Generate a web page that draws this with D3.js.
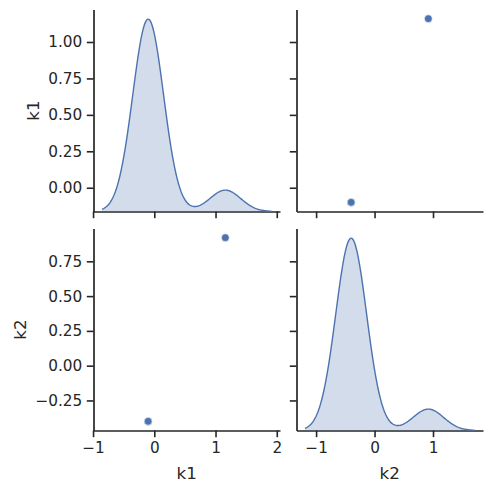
<!DOCTYPE html>
<html>
<head>
<meta charset="utf-8">
<script src="https://cdn.jsdelivr.net/npm/d3@7"></script>
<style>
  body { margin: 0; background: #fff; }
  svg text { font-family: "DejaVu Sans", sans-serif; fill: #262626; }
</style>
</head>
<body>
<div id="chart"></div>
<script>
// variables and their values (9 rows share the same point, 1 row is the outlier)
var varNames = ["k1", "k2"];
var k1 = [-0.1, -0.1, -0.1, -0.1, -0.1, -0.1, -0.1, -0.1, -0.1, 1.16];
var k2 = [-0.4, -0.4, -0.4, -0.4, -0.4, -0.4, -0.4, -0.4, -0.4, 0.92];
var k1Ticks = [-1, 0, 1, 2];
var k2Ticks = [-1, 0, 1];
var k1RowTicks = [0, 0.25, 0.5, 0.75, 1.0];
var k2RowTicks = [-0.25, 0, 0.25, 0.5, 0.75];

var data = [k1, k2];
var colTicks = [k1Ticks, k2Ticks];
var rowTicks = [k1RowTicks, k2RowTicks];

var W = 493, H = 493;
var colX = [93.5, 296.5], colW = 186.5;
var rowY = [9.5, 228.5], rowH = 202;
var blue = "#4c72b0", ink = "#262626";
var tickLen = 6.7, tickPad = 4.5;

var svg = d3.select("#chart").append("svg")
    .attr("width", W).attr("height", H);

// gaussian kde, scott's rule, cut = 3, 200 grid points (like seaborn)
function kde(vals) {
  var n = vals.length;
  var sd = d3.deviation(vals);
  var bw = sd * Math.pow(n, -0.2);
  var lo = d3.min(vals) - 3 * bw, hi = d3.max(vals) + 3 * bw;
  var pts = [];
  for (var i = 0; i < 200; i++) {
    var x = lo + (hi - lo) * i / 199;
    var s = 0;
    vals.forEach(function(v) { var z = (x - v) / bw; s += Math.exp(-0.5 * z * z); });
    pts.push([x, s / (n * bw * Math.sqrt(2 * Math.PI))]);
  }
  return pts;
}

var curves = data.map(kde);

function pad(ext) {
  var m = (ext[1] - ext[0]) * 0.05;
  return [ext[0] - m, ext[1] + m];
}

// x scales come from the kde support (widest thing in each column)
var xScales = curves.map(function(c, i) {
  return d3.scaleLinear()
    .domain(pad(d3.extent(c, function(d) { return d[0]; })))
    .range([colX[i], colX[i] + colW]);
});
var yScales = data.map(function(v, i) {
  return d3.scaleLinear()
    .domain(pad(d3.extent(v)))
    .range([rowY[i] + rowH, rowY[i]]);
});

function fmtX(d) { return d3.format("d")(d).replace("-", "\u2212"); }
function fmtY(d) { return d3.format(".2f")(d).replace("-", "\u2212"); }

for (var r = 0; r < 2; r++) {
  for (var c = 0; c < 2; c++) {
    var g = svg.append("g");
    var x = xScales[c], y = yScales[r];

    // axes first, marks on top
    var ax = d3.axisBottom(x).tickValues(colTicks[c]).tickSize(tickLen).tickSizeOuter(0)
      .tickPadding(tickPad).tickFormat(r === 1 ? fmtX : "");
    var gx = g.append("g").attr("transform", "translate(0," + (rowY[r] + rowH) + ")").call(ax);
    var ay = d3.axisLeft(y).tickValues(rowTicks[r]).tickSize(tickLen).tickSizeOuter(0)
      .tickPadding(tickPad).tickFormat(c === 0 ? fmtY : "");
    var gy = g.append("g").attr("transform", "translate(" + colX[c] + ",0)").call(ay);

    [gx, gy].forEach(function(a) {
      a.select(".domain").attr("stroke", ink).attr("stroke-width", 1.7);
      a.selectAll(".tick line").attr("stroke", ink).attr("stroke-width", 1.6);
      a.selectAll(".tick text").attr("font-size", "15.3px").attr("fill", ink)
        .style("font-family", "DejaVu Sans, sans-serif");
    });

    if (r === c) {
      var curve = curves[c];
      var yd = d3.scaleLinear()
        .domain([0, d3.max(curve, function(d) { return d[1]; }) * 1.05])
        .range([rowY[r] + rowH, rowY[r]]);
      g.append("path")
        .datum(curve)
        .attr("fill", blue).attr("fill-opacity", 0.25)
        .attr("d", d3.area().x(function(d) { return x(d[0]); }).y0(yd(0)).y1(function(d) { return yd(d[1]); }));
      g.append("path")
        .datum(curve)
        .attr("fill", "none").attr("stroke", blue).attr("stroke-width", 1.4)
        .attr("d", d3.line().x(function(d) { return x(d[0]); }).y(function(d) { return yd(d[1]); }));
    } else {
      g.selectAll("circle")
        .data(data[c].map(function(v, i) { return [v, data[r][i]]; }))
        .enter().append("circle")
        .attr("cx", function(d) { return x(d[0]); })
        .attr("cy", function(d) { return y(d[1]); })
        .attr("r", 3.9)
        .attr("fill", blue)
        .attr("stroke", "#fff").attr("stroke-width", 0.6);
    }

    if (c === 0) {
      var minLeft = colX[0];
      gy.selectAll(".tick text").each(function() {
        var b = this.getBBox();
        minLeft = Math.min(minLeft, colX[0] + b.x);
      });
      svg.append("text")
        .attr("transform", "translate(" + (minLeft - 9.5) + "," + (rowY[r] + rowH / 2) + ") rotate(-90)")
        .attr("text-anchor", "middle")
        .attr("font-size", "16.7px")
        .text(varNames[r]);
    }
    if (r === 1) {
      svg.append("text")
        .attr("x", colX[c] + colW / 2)
        .attr("y", rowY[1] + rowH + 48.5)
        .attr("text-anchor", "middle")
        .attr("font-size", "16.7px")
        .text(varNames[c]);
    }
  }
}
</script>
</body>
</html>
